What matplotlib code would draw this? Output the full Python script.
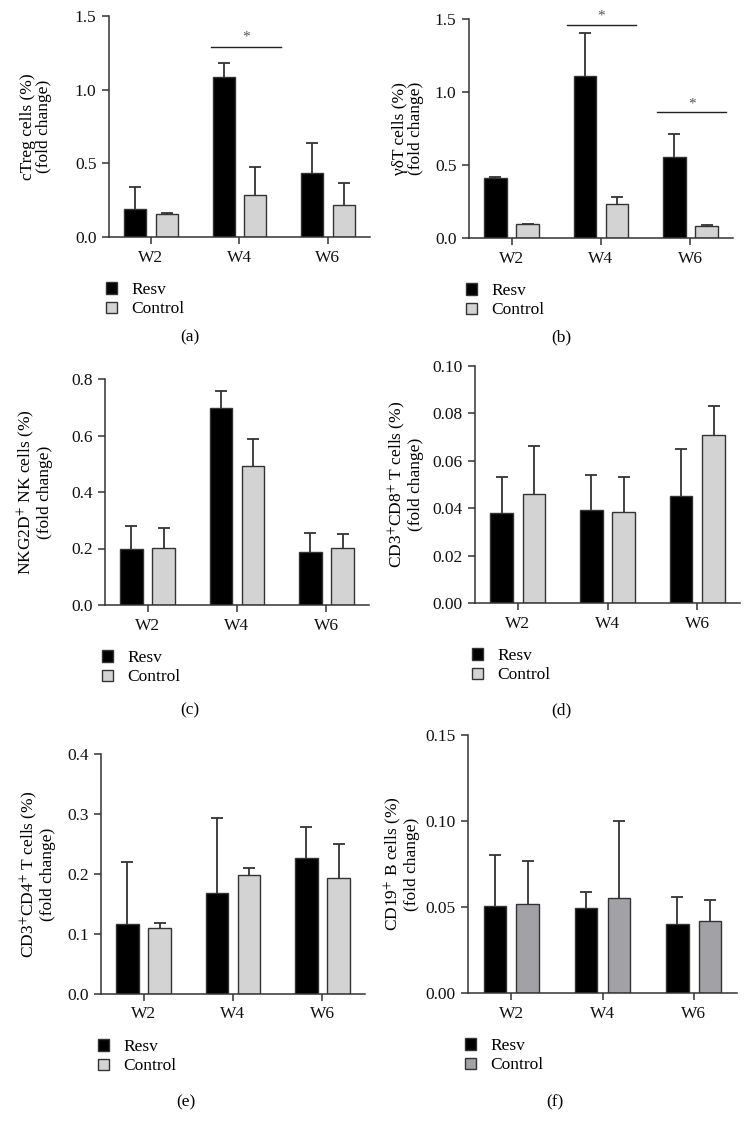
import numpy as np
import matplotlib
matplotlib.use('Agg')
from matplotlib import pyplot as plt

plt.rcParams['font.family'] = ['Liberation Serif', 'DejaVu Serif']
plt.rcParams['mathtext.fontset'] = 'stix'

# Data
weeks = ['W2', 'W4', 'W6']
groups = ['Resv', 'Control']

ctreg_resv = [0.188, 1.085, 0.432]
ctreg_resv_top = [0.338, 1.180, 0.641]
ctreg_ctrl = [0.159, 0.287, 0.218]
ctreg_ctrl_top = [0.161, 0.478, 0.368]

gdt_resv = [0.410, 1.108, 0.556]
gdt_resv_top = [0.420, 1.403, 0.712]
gdt_ctrl = [0.095, 0.230, 0.081]
gdt_ctrl_top = [0.097, 0.280, 0.090]

nk_resv = [0.199, 0.696, 0.187]
nk_resv_top = [0.279, 0.756, 0.254]
nk_ctrl = [0.201, 0.493, 0.202]
nk_ctrl_top = [0.274, 0.587, 0.250]

cd8_resv = [0.0379, 0.0391, 0.0450]
cd8_resv_top = [0.0530, 0.0540, 0.0650]
cd8_ctrl = [0.0462, 0.0382, 0.0707]
cd8_ctrl_top = [0.0662, 0.0530, 0.0830]

cd4_resv = [0.117, 0.169, 0.227]
cd4_resv_top = [0.220, 0.293, 0.279]
cd4_ctrl = [0.110, 0.199, 0.193]
cd4_ctrl_top = [0.119, 0.210, 0.250]

cd19_resv = [0.0508, 0.0494, 0.0400]
cd19_resv_top = [0.0800, 0.0590, 0.0556]
cd19_ctrl = [0.0516, 0.0553, 0.0420]
cd19_ctrl_top = [0.0765, 0.0998, 0.0539]

LINE = '#333333'
FS = 12.5
W, H = 746, 1129

fig = plt.figure(figsize=(W / 100, H / 100), dpi=100)


def add_axes_px(left, right, top, bottom):
	return fig.add_axes([left / W, 1 - bottom / H, (right - left) / W, (bottom - top) / H])


def bar_panel(box, resv, resv_top, ctrl, ctrl_top, ymax, yticks, ytick_fmt, ylabel,
			  caption, cap_x, cap_y, ctrl_color='#d3d3d3', sig=(), ylab_x=52):
	ax = add_axes_px(*box)
	x = np.arange(len(weeks))
	off, bw = 0.18, 0.25
	b1 = ax.bar(x - off, resv, bw, color='black', edgecolor=LINE, linewidth=1, label=groups[0], zorder=2)
	b2 = ax.bar(x + off, ctrl, bw, color=ctrl_color, edgecolor=LINE, linewidth=1, label=groups[1], zorder=2)
	for pos, v, t in [(x - off, resv, resv_top), (x + off, ctrl, ctrl_top)]:
		v = np.array(v)
		t = np.array(t)
		_, caps, _ = ax.errorbar(pos, v, yerr=[np.zeros_like(v), t - v], fmt='none', ecolor=LINE,
								 elinewidth=1.3, capsize=4, capthick=1.3, zorder=1)
		caps[0].set_visible(False)
	for x0, x1, y, ys in sig:
		ax.plot([x0, x1], [y, y], color='#222222', lw=1, clip_on=False)
		ax.text((x0 + x1) / 2, ys, '*', ha='center', va='center', fontsize=11, color='#555555')
	ax.set_xlim(-0.475, 2.475)
	ax.set_ylim(0, ymax)
	ax.set_xticks(x)
	ax.set_xticklabels(weeks, fontsize=FS)
	ax.set_yticks(yticks)
	ax.set_yticklabels([ytick_fmt.format(t) for t in yticks], fontsize=FS)
	for s in ['top', 'right']:
		ax.spines[s].set_visible(False)
	for s in ['left', 'bottom']:
		ax.spines[s].set_color(LINE)
		ax.spines[s].set_linewidth(1.1)
	ax.tick_params(axis='both', colors=LINE, labelcolor='#111111', length=5, width=1.1, pad=4)
	ax.set_ylabel(ylabel, fontsize=FS, linespacing=1.0)
	left, right, top, bottom = box
	ax.yaxis.set_label_coords(ylab_x / W, 1 - (top + bottom) / 2 / H, transform=fig.transFigure)
	ax.legend(handles=[b1, b2], loc='upper left', frameon=False,
			  bbox_to_anchor=((left - 3) / W, 1 - (bottom + 45) / H), bbox_transform=fig.transFigure,
			  borderaxespad=0, borderpad=0, handlelength=0.65, handleheight=0.65,
			  handletextpad=0.8, labelspacing=0.2, fontsize=FS)
	fig.text(cap_x / W, 1 - cap_y / H, caption, ha='center', va='center', fontsize=FS)
	return ax


bar_panel((109, 370, 16, 237), ctreg_resv, ctreg_resv_top, ctreg_ctrl, ctreg_ctrl_top,
		  1.5, [0.0, 0.5, 1.0, 1.5], '{:.1f}', 'cTreg cells (%)\n(fold change)',
		  '(a)', 190, 337, sig=[(0.68, 1.47, 1.29, 1.355)], ylab_x=52)
bar_panel((469, 733, 19, 238), gdt_resv, gdt_resv_top, gdt_ctrl, gdt_ctrl_top,
		  1.5, [0.0, 0.5, 1.0, 1.5], '{:.1f}', 'γδT cells (%)\n(fold change)',
		  '(b)', 561, 337, sig=[(0.615, 1.39, 1.46, 1.52), (1.625, 2.40, 0.862, 0.92)], ylab_x=424)
bar_panel((105, 369, 379, 605), nk_resv, nk_resv_top, nk_ctrl, nk_ctrl_top,
		  0.8, [0.0, 0.2, 0.4, 0.6, 0.8], '{:.1f}', 'NKG2D$^{+}$ NK cells (%)\n(fold change)',
		  '(c)', 190, 710, ylab_x=53)
bar_panel((475, 740, 366, 603), cd8_resv, cd8_resv_top, cd8_ctrl, cd8_ctrl_top,
		  0.10, [0.0, 0.02, 0.04, 0.06, 0.08, 0.10], '{:.2f}', 'CD3$^{+}$CD8$^{+}$ T cells (%)\n(fold change)',
		  '(d)', 561, 710, ylab_x=424)
bar_panel((101, 365, 754, 994), cd4_resv, cd4_resv_top, cd4_ctrl, cd4_ctrl_top,
		  0.4, [0.0, 0.1, 0.2, 0.3, 0.4], '{:.1f}', 'CD3$^{+}$CD4$^{+}$ T cells (%)\n(fold change)',
		  '(e)', 186, 1102, ylab_x=56)
bar_panel((468, 737, 735, 993), cd19_resv, cd19_resv_top, cd19_ctrl, cd19_ctrl_top,
		  0.15, [0.0, 0.05, 0.10, 0.15], '{:.2f}', 'CD19$^{+}$ B cells (%)\n(fold change)',
		  '(f)', 555, 1102, ctrl_color='#a2a2a6', ylab_x=420)

fig.savefig('out.png', dpi=100)
